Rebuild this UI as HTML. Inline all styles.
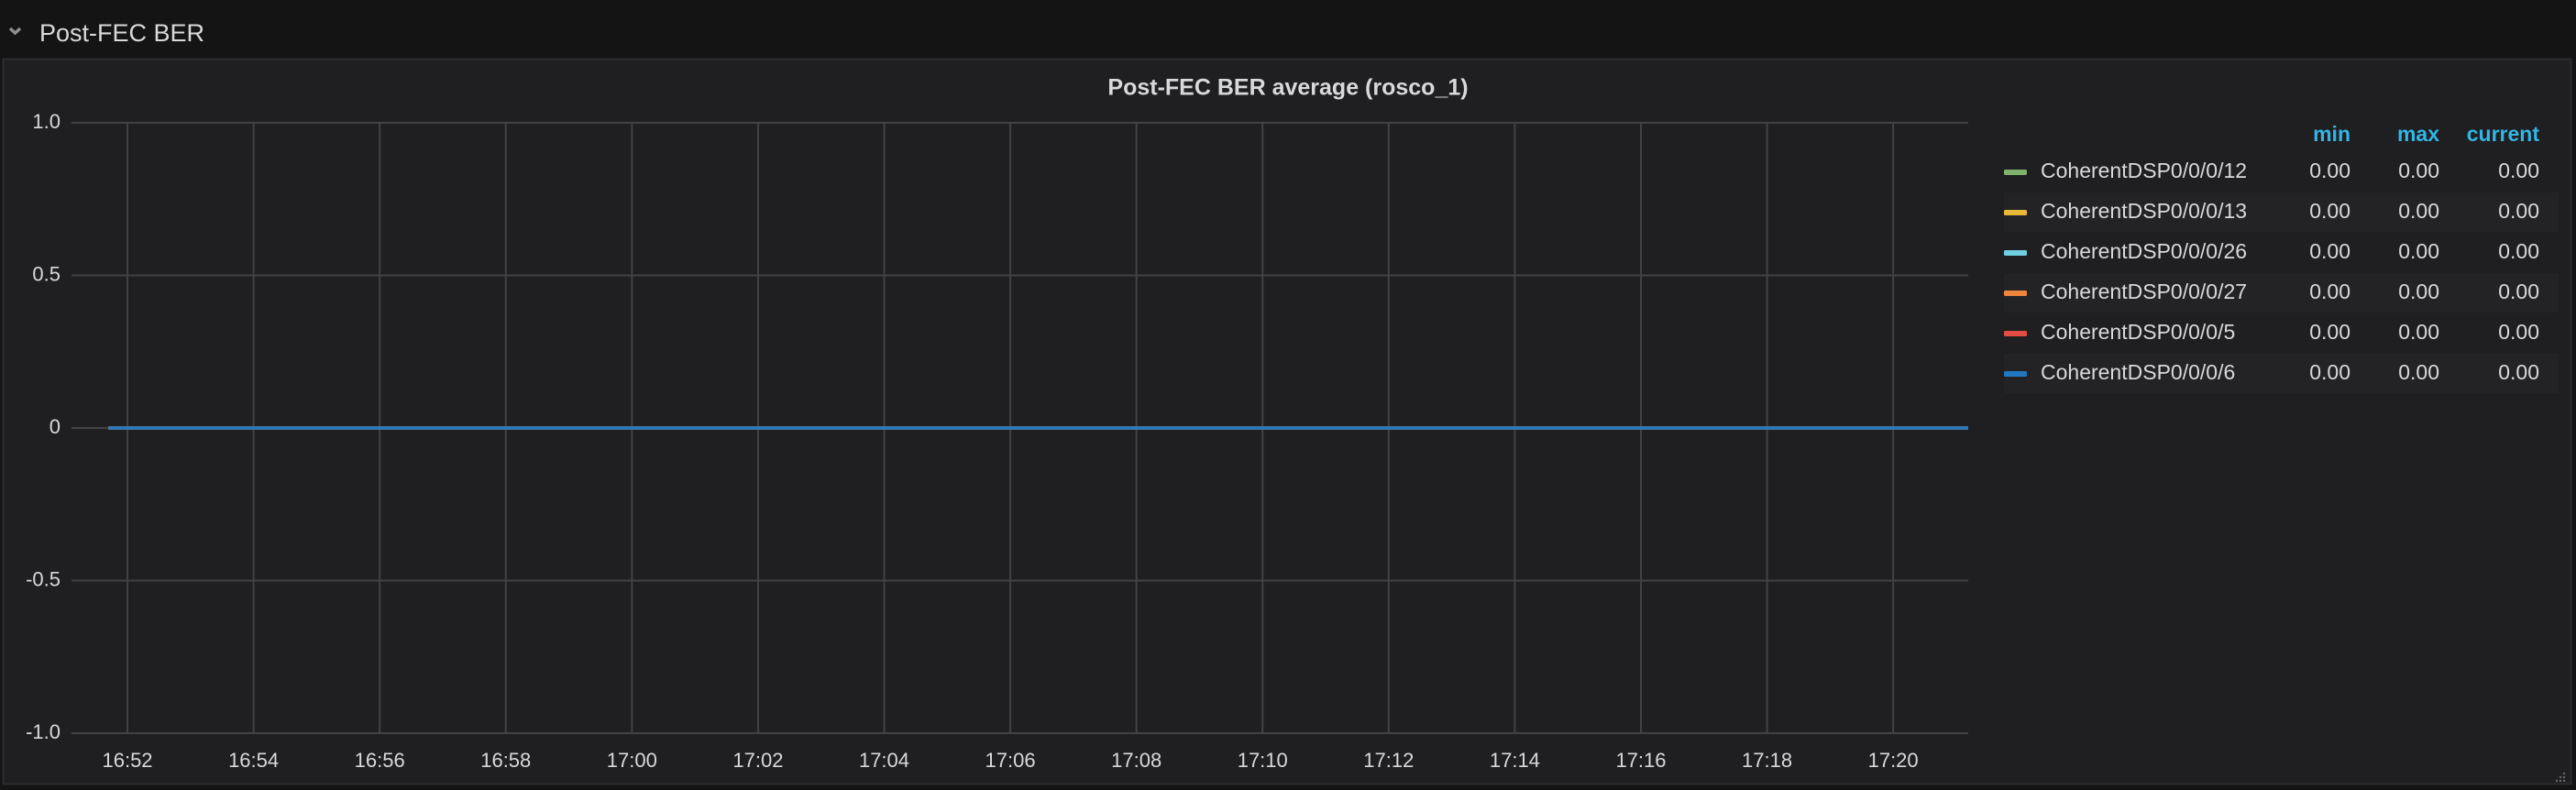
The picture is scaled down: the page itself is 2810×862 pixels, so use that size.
<!DOCTYPE html>
<html><head><meta charset="utf-8"><style>
html,body{margin:0;padding:0;background:#141414;width:2810px;height:862px;overflow:hidden;font-family:"Liberation Sans",sans-serif;}
</style></head><body>
<svg id="c" width="2810" height="862" xmlns="http://www.w3.org/2000/svg" style="position:absolute;left:0;top:0">
<rect x="0" y="0" width="2810" height="862" fill="#141414"/>
<g>
<path d="M11 31 L16.5 36 L22 31" stroke="#8e8e8e" stroke-width="3.5" fill="none"/>
<text x="43" y="38" font-size="27" fill="#d8d9da" dominant-baseline="middle">Post-FEC BER</text>
</g>
<rect x="3.5" y="64.5" width="2801" height="791" fill="#1f1e20" stroke="#2c2b2e" stroke-width="2"/>
<text x="1405" y="97" font-size="25" font-weight="bold" fill="#d8d9da" text-anchor="middle" dominant-baseline="middle">Post-FEC BER average (rosco_1)</text>
<g id="grid"></g>
<g id="yax"></g>
<g id="xax"></g>
<g id="lines"></g>
<g id="legend">
<text x="2564" y="148" font-size="23" font-weight="bold" fill="#33b5e5" text-anchor="end" dominant-baseline="middle">min</text>
<text x="2661" y="148" font-size="23" font-weight="bold" fill="#33b5e5" text-anchor="end" dominant-baseline="middle">max</text>
<text x="2770" y="148" font-size="23" font-weight="bold" fill="#33b5e5" text-anchor="end" dominant-baseline="middle">current</text>
</g>
<g>
<circle cx="2797" cy="848" r="1.2" fill="#666"/><circle cx="2793" cy="852" r="1.2" fill="#666"/><circle cx="2797" cy="852" r="1.2" fill="#666"/>
<circle cx="2789" cy="852" r="1.2" fill="#666"/><circle cx="2797" cy="844" r="1.2" fill="#666"/><circle cx="2793" cy="848" r="1.2" fill="#666"/>
</g>
</svg>
<script>
const NS="http://www.w3.org/2000/svg";
// data
const xTicks=[52,54,56,58,60,62,64,66,68,70,72,74,76,78,80];
const xTickLabels=["16:52","16:54","16:56","16:58","17:00","17:02","17:04","17:06","17:08","17:10","17:12","17:14","17:16","17:18","17:20"];
const yTicks=[1,0.5,0,-0.5,-1];
const yTickLabels=["1.0","0.5","0","-0.5","-1.0"];
const seriesNames=["CoherentDSP0/0/0/12","CoherentDSP0/0/0/13","CoherentDSP0/0/0/26","CoherentDSP0/0/0/27","CoherentDSP0/0/0/5","CoherentDSP0/0/0/6"];
const seriesColors=["#7eb26d","#eab839","#6ed0e0","#ef843c","#e24d42","#1f78c1"];
const times=[51.7,53,55,57,59,61,63,65,67,69,71,73,75,77,79,81.19];
const values12=[0,0,0,0,0,0,0,0,0,0,0,0,0,0,0,0];
const values13=[0,0,0,0,0,0,0,0,0,0,0,0,0,0,0,0];
const values26=[0,0,0,0,0,0,0,0,0,0,0,0,0,0,0,0];
const values27=[0,0,0,0,0,0,0,0,0,0,0,0,0,0,0,0];
const values5=[0,0,0,0,0,0,0,0,0,0,0,0,0,0,0,0];
const values6=[0,0,0,0,0,0,0,0,0,0,0,0,0,0,0,0];
const seriesValues=[values12,values13,values26,values27,values5,values6];
const legendMin=["0.00","0.00","0.00","0.00","0.00","0.00"];
const legendMax=["0.00","0.00","0.00","0.00","0.00","0.00"];
const legendCurrent=["0.00","0.00","0.00","0.00","0.00","0.00"];

const L=78,R=2147,T=134,B=800;
const x0=51.113,x1=81.19;
function xs(t){return L+(t-x0)/(x1-x0)*(R-L);}
function ys(v){return B-(v+1)/2*(B-T);}
function mk(tag,attrs,parent){const e=document.createElementNS(NS,tag);for(const k in attrs)e.setAttribute(k,attrs[k]);parent.appendChild(e);return e;}

const grid=document.getElementById('grid'),yax=document.getElementById('yax'),xax=document.getElementById('xax');
yTicks.forEach((v,i)=>{
 const y=ys(v);
 const ln=mk('line',{x1:L,x2:R,y1:y,y2:y,stroke:'#424242','stroke-width':2},grid);
 
 
 const t=mk('text',{x:66,y:y,'font-size':22,fill:'#d8d9da','text-anchor':'end','dominant-baseline':'middle'},yax);
 t.textContent=yTickLabels[i];
 
 
});
xTicks.forEach((m,i)=>{
 const x=xs(m);
 const ln=mk('line',{x1:x,x2:x,y1:T,y2:B,stroke:'#424242','stroke-width':2},grid);
 
 
 const t=mk('text',{x:x,y:831,'font-size':22,fill:'#d8d9da','text-anchor':'middle','dominant-baseline':'middle'},xax);
 t.textContent=xTickLabels[i];
 
 
});
const lines=document.getElementById('lines');
seriesValues.forEach((vals,si)=>{
 const pts=vals.map((v,j)=>xs(times[j]).toFixed(1)+','+ys(v).toFixed(1)).join(' ');
 const pl=mk('polyline',{points:pts,fill:'none',stroke:seriesColors[si],'stroke-width':3.5},lines);
 
 
});
const leg=document.getElementById('legend');
seriesNames.forEach((n,i)=>{
 const cy=188+i*44;
 if(i%2===1){
  const r=mk('rect',{x:2186,y:cy-22,width:605,height:43,fill:'#232225'},leg);
  
  
 }
 const g=mk('g',{},leg);
 
 
 const sw=mk('rect',{x:2186,y:cy-3,width:25,height:6,rx:1.5,fill:seriesColors[i]},g);
 
 
 const t=mk('text',{x:2226,y:cy,'font-size':23,fill:'#d8d9da','dominant-baseline':'middle'},g);
 t.textContent=n;
 
 
 [[2564,legendMin[i],'legend-min'],[2661,legendMax[i],'legend-max'],[2770,legendCurrent[i],'legend-current']].forEach(c=>{
  const v=mk('text',{x:c[0],y:cy,'font-size':23,fill:'#d8d9da','text-anchor':'end','dominant-baseline':'middle'},g);
  v.textContent=c[1];
  
  
 });
});
</script>
</body></html>
